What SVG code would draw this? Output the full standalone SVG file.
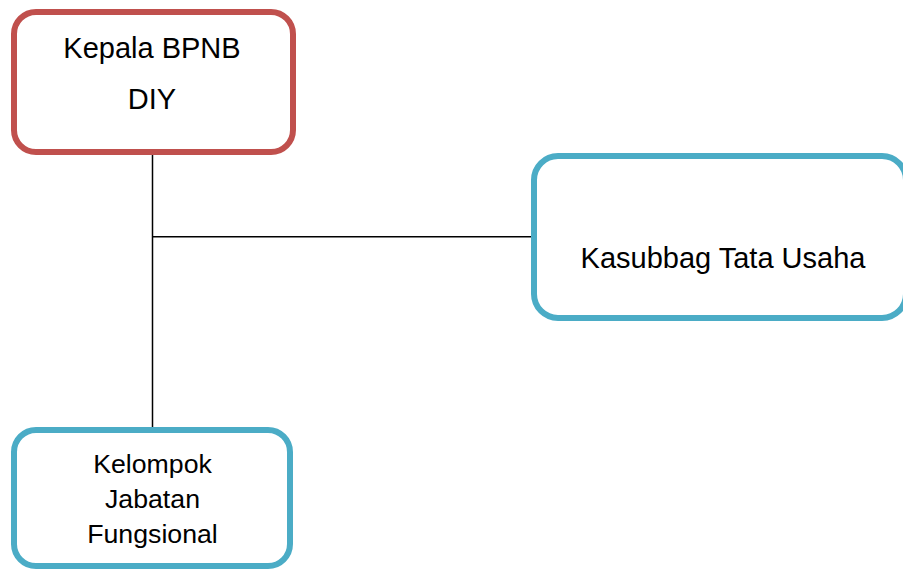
<svg xmlns="http://www.w3.org/2000/svg" width="903" height="572" viewBox="0 0 903 572">
<style>
.box{fill:#fff;stroke-width:6}
.red{stroke:#C0504D}
.blue{stroke:#4BACC6}
.t{font-family:"Liberation Sans",Arial,sans-serif;fill:#000;text-anchor:middle}
.conn{stroke:#000;stroke-width:1.5;fill:none}
</style>
<rect width="903" height="572" fill="#fff"/>
<g id="connectors">
<line class="conn" x1="152.5" y1="155" x2="152.5" y2="427"/>
<line class="conn" x1="152.5" y1="236.75" x2="531" y2="236.75"/>
</g>
<g id="kepala">
<rect class="box red" x="14" y="12" width="279" height="140" rx="22"/>
<text class="t" x="152" y="57.5" font-size="29">Kepala BPNB</text>
<text class="t" x="152" y="108.5" font-size="29">DIY</text>
</g>
<g id="kasubbag">
<rect class="box blue" x="534" y="156" width="372" height="162" rx="24"/>
<text class="t" x="723" y="268" font-size="29">Kasubbag Tata Usaha</text>
</g>
<g id="kelompok">
<rect class="box blue" x="14" y="430" width="276" height="136" rx="22"/>
<text class="t" x="152.5" y="473" font-size="26.7">Kelompok</text>
<text class="t" x="152.5" y="508" font-size="26.7">Jabatan</text>
<text class="t" x="152.5" y="543" font-size="26.7">Fungsional</text>
</g>
</svg>
